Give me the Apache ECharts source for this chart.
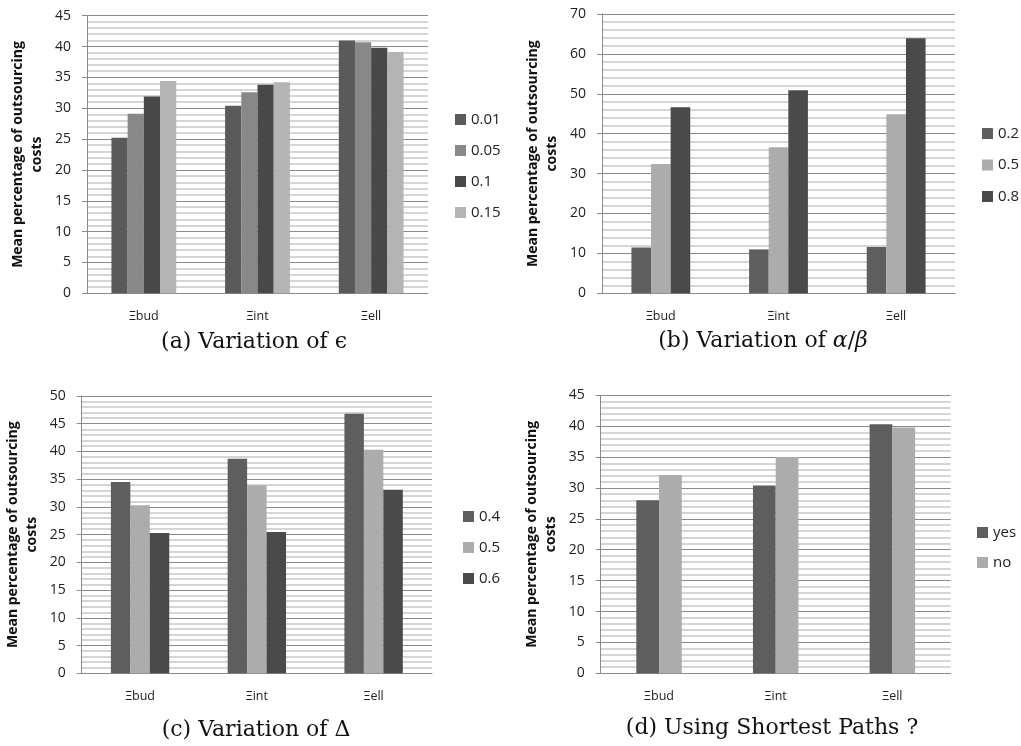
<!DOCTYPE html>
<html>
<head>
<meta charset="utf-8">
<script src="https://cdn.jsdelivr.net/npm/echarts@6/dist/echarts.min.js"></script>
<style>
html,body{margin:0;padding:0;background:#fff;}
#chart{width:1021px;height:746px;}
</style>
</head>
<body>
<div id="chart"></div>
<script>
// ---- data ----
const categories = ['Ξbud', 'Ξint', 'Ξell'];

// (a) Variation of epsilon
const epsNames = ['0.01', '0.05', '0.1', '0.15'];
const eps001 = [25.2, 30.4, 41.0];
const eps005 = [29.1, 32.6, 40.7];
const eps01 = [31.9, 33.8, 39.8];
const eps015 = [34.4, 34.2, 39.1];
const epsTicks = { min: 0, max: 45, interval: 5 };

// (b) Variation of alpha/beta
const abNames = ['0.2', '0.5', '0.8'];
const ab02 = [11.5, 11.0, 11.6];
const ab05 = [32.4, 36.6, 44.9];
const ab08 = [46.6, 50.9, 63.9];
const abTicks = { min: 0, max: 70, interval: 10 };

// (c) Variation of Delta
const deltaNames = ['0.4', '0.5', '0.6'];
const delta04 = [34.5, 38.7, 46.8];
const delta05 = [30.3, 33.9, 40.3];
const delta06 = [25.3, 25.5, 33.1];
const deltaTicks = { min: 0, max: 50, interval: 5 };

// (d) Using shortest paths
const spNames = ['yes', 'no'];
const spYes = [28.0, 30.4, 40.3];
const spNo = [32.1, 35.0, 39.8];
const spTicks = { min: 0, max: 45, interval: 5 };

const yName = 'Mean percentage of outsourcing\ncosts';
const captions = ['(a) Variation of ϵ', '(b) Variation of {i|α}/{i|β}', '(c) Variation of Δ', '(d) Using Shortest Paths ?'];

// ---- styles ----
const sansFont = 'Open Sans';
const grids = [
  { left: 87, top: 15.7, width: 341, height: 277.6 },
  { left: 602, top: 14, width: 353, height: 279.3 },
  { left: 81.7, top: 396, width: 350.3, height: 277.3 },
  { left: 600.7, top: 395.3, width: 350, height: 278 }
];
const gaps = ['43%', '50%', '50%', '61%'];
const tickSets = [epsTicks, abTicks, deltaTicks, spTicks];

const xAxes = grids.map((g, i) => ({
  type: 'category', gridIndex: i, data: categories,
  axisLine: { show: true, lineStyle: { color: '#8a8a8a', width: 1 } },
  axisTick: { show: false },
  axisLabel: { color: '#222', fontFamily: sansFont, fontSize: 12.5, margin: 17 },
  splitLine: { show: false }
}));

const yAxes = grids.map((g, i) => ({
  type: 'value', gridIndex: i,
  min: tickSets[i].min, max: tickSets[i].max, interval: tickSets[i].interval,
  name: yName, nameLocation: 'middle', nameRotate: 90, nameGap: 40,
  nameTextStyle: { fontFamily: sansFont, fontWeight: 'bold', fontSize: 14, color: '#111', lineHeight: 19, align: 'center' },
  axisLine: { show: true, lineStyle: { color: '#8a8a8a', width: 1 } },
  axisTick: { show: true, length: 5, lineStyle: { color: '#8a8a8a' } },
  axisLabel: { color: '#222', fontFamily: sansFont, fontSize: 14, margin: 16 },
  splitLine: { show: true, lineStyle: { color: '#8a8a8a', width: 1 } },
  minorTick: { show: false, splitNumber: 5 },
  minorSplitLine: { show: true, lineStyle: { color: '#c8c8c8', width: 1.5 } }
}));

function bar(name, data, color, idx) {
  return {
    type: 'bar', name: name, data: data, xAxisIndex: idx, yAxisIndex: idx,
    barGap: '0%', barCategoryGap: gaps[idx],
    itemStyle: { color: color }, emphasis: { disabled: true }
  };
}

const series = [
  bar(epsNames[0], eps001, '#5a5a5a', 0),
  bar(epsNames[1], eps005, '#888888', 0),
  bar(epsNames[2], eps01, '#484848', 0),
  bar(epsNames[3], eps015, '#b4b4b4', 0),
  bar(abNames[0], ab02, '#5e5e5e', 1),
  bar(abNames[1], ab05, '#acacac', 1),
  bar(abNames[2], ab08, '#4a4a4a', 1),
  bar(deltaNames[0], delta04, '#5e5e5e', 2),
  bar(deltaNames[1], delta05, '#acacac', 2),
  bar(deltaNames[2], delta06, '#4a4a4a', 2),
  bar(spNames[0], spYes, '#5e5e5e', 3),
  bar(spNames[1], spNo, '#acacac', 3)
];

function legend(left, top, gap, seriesIdx) {
  return {
    orient: 'vertical', left: left, top: top, itemGap: gap, padding: 0,
    itemWidth: 11, itemHeight: 11, icon: 'rect',
    textStyle: { fontFamily: sansFont, fontSize: 15, color: '#222', lineHeight: 14 },
    selectedMode: false,
    data: seriesIdx.map(k => ({ name: series[k].name, itemStyle: { color: series[k].itemStyle.color } }))
  };
}

const captionPos = [[254, 342], [763, 341], [256, 730], [772, 728]];

const option = {
  animation: false,
  backgroundColor: '#fff',
  grid: grids,
  xAxis: xAxes,
  yAxis: yAxes,
  series: series,
  legend: [
    legend(455, 112, 16, [0, 1, 2, 3]),
    legend(982, 126, 16.5, [4, 5, 6]),
    legend(463, 509, 16, [7, 8, 9]),
    legend(977, 525, 15, [10, 11])
  ],
  graphic: captions.map((c, i) => ({
    type: 'text', x: captionPos[i][0], y: captionPos[i][1],
    style: {
      text: c, fontFamily: 'DejaVu Serif', fontSize: 22, fill: '#111', align: 'center', verticalAlign: 'middle',
      rich: { i: { fontFamily: 'DejaVu Serif', fontStyle: 'italic', fontSize: 22, fill: '#111' } }
    }
  }))
};

const chart = echarts.init(document.getElementById('chart'), null, { renderer: 'canvas' });
chart.setOption(option);
</script>
</body>
</html>
